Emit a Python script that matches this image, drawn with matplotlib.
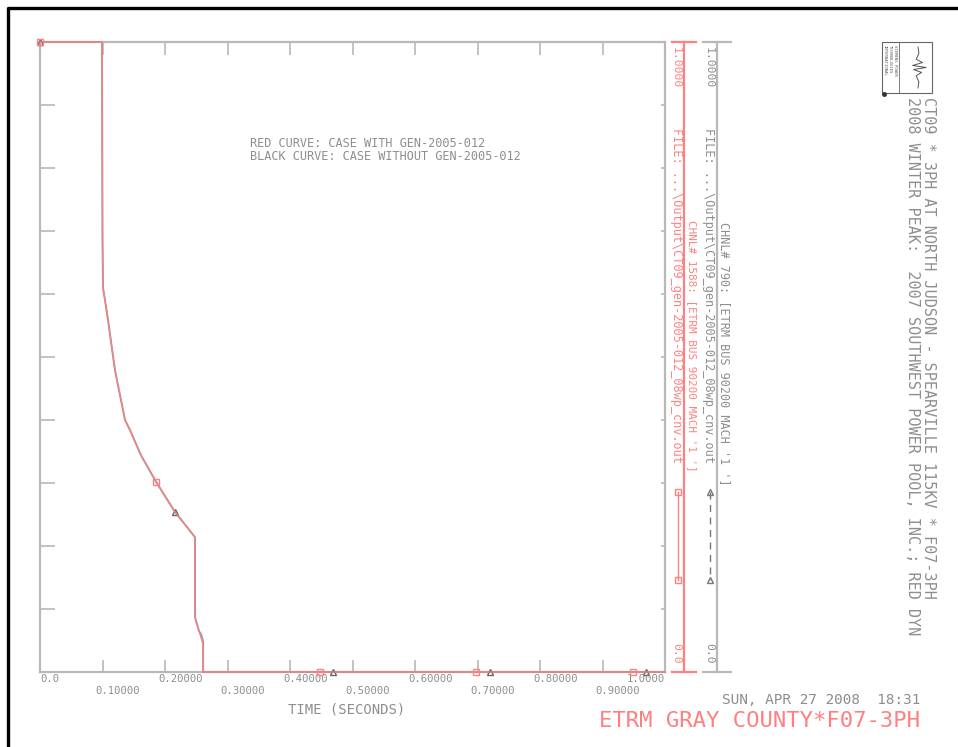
import matplotlib
matplotlib.use("Agg")
import matplotlib.pyplot as plt
from matplotlib.lines import Line2D
from matplotlib.patches import Rectangle

W, H = 958, 747
MONO = "DejaVu Sans Mono"
GREY = "#8e8e8e"
RED = "#ff8080"
FRAME = "#b8b8b8"

# red curve: case with GEN-2005-012 (CHNL# 1588)
time_red = [0.0, 0.0992, 0.1, 0.1008, 0.1048, 0.1088, 0.12, 0.136, 0.144, 0.1616, 0.1856,
            0.216, 0.248, 0.248, 0.261, 0.261, 0.448, 0.6976, 0.9488, 1.0]
chnl_1588 = [1.0, 1.0, 0.686, 0.610, 0.585, 0.559, 0.479, 0.400, 0.384, 0.344, 0.302,
             0.254, 0.214, 0.087, 0.043, 0.0, 0.0, 0.0, 0.0, 0.0]
marks_red = [0, 10, 16, 17, 18]

# black curve: case without GEN-2005-012 (CHNL# 790)
time_blk = [0.0, 0.0992, 0.1, 0.1008, 0.1048, 0.1088, 0.12, 0.136, 0.144, 0.1616, 0.1856,
            0.216, 0.248, 0.248, 0.2544, 0.2576, 0.261, 0.261, 0.469, 0.72, 0.97, 1.0]
chnl_790 = [1.0, 1.0, 0.686, 0.610, 0.585, 0.559, 0.479, 0.400, 0.384, 0.344, 0.302,
            0.254, 0.214, 0.087, 0.065, 0.060, 0.048, 0.0, 0.0, 0.0, 0.0, 0.0]
marks_blk = [0, 11, 18, 19, 20]

xticks = [0.0, 0.1, 0.2, 0.3, 0.4, 0.5, 0.6, 0.7, 0.8, 0.9, 1.0]
xlabels = ["0.0", "0.10000", "0.20000", "0.30000", "0.40000", "0.50000",
           "0.60000", "0.70000", "0.80000", "0.90000", "1.0000"]
yticks = [0.0, 0.1, 0.2, 0.3, 0.4, 0.5, 0.6, 0.7, 0.8, 0.9, 1.0]

# little logo waveform (logo box units)
logo_wave_t = [0.0, 0.15, 0.3, 0.38, 0.45, 0.5, 0.55, 0.62, 0.7, 0.85, 1.0]
logo_wave_a = [0.0, 0.1, -0.2, 0.5, -0.6, 0.9, -0.5, 0.4, -0.2, 0.1, 0.0]


def fx(x):
    return x / W


def fy(y):
    return 1 - y / H


fig = plt.figure(figsize=(W / 100, H / 100), dpi=100)
ax = fig.add_axes([fx(40), fy(672), 625 / W, 630 / H])

ax.plot(time_blk, chnl_790, color="#9a9a9a", lw=1.4, marker="^", ms=4.5,
        mfc="none", mec="#666666", markevery=marks_blk, clip_on=False, zorder=3)
ax.plot(time_red, chnl_1588, color=RED, lw=0.9, marker="s", ms=4.5,
        mfc="none", mec=RED, markevery=marks_red, clip_on=False, zorder=4)

ax.set_xlim(0, 1)
ax.set_ylim(0, 1)
ax.set_xticks(xticks)
ax.set_yticks(yticks)
ax.set_xticklabels([])
ax.set_yticklabels([])
for s in ax.spines.values():
    s.set_color(FRAME)
    s.set_linewidth(1.6)
ax.tick_params(axis="x", direction="in", length=9, width=1.2, color=FRAME,
               top=True, bottom=True)
ax.tick_params(axis="y", direction="in", length=11, width=1.2, color=FRAME,
               left=True, right=True)
for t in ax.yaxis.get_major_ticks():
    t.tick2line.set_markersize(3)

for i, (t, lbl) in enumerate(zip(xticks, xlabels)):
    if i == 0:
        ha, dx = "left", 0
    elif i == len(xticks) - 1:
        ha, dx = "right", 0
    else:
        ha, dx = "left", -5
    dy = -5 if i % 2 == 0 else -14
    ax.annotate(lbl, (t, 0), xycoords=("data", "axes fraction"),
                xytext=(dx, dy), textcoords="offset points", ha=ha, va="center",
                fontsize=7.6, family=MONO, color=GREY)

ax.text(0.49, -0.06, "TIME (SECONDS)", transform=ax.transAxes, ha="center",
        va="center", fontsize=10, family=MONO, color=GREY)

ax.text(0.336, 0.828, "RED CURVE: CASE WITH GEN-2005-012\nBLACK CURVE: CASE WITHOUT GEN-2005-012",
        transform=ax.transAxes, ha="left", va="center", fontsize=8.6,
        family=MONO, color=GREY, linespacing=1.0)

# outer page border (left and top only)
fig.add_artist(Line2D([fx(8), fx(8), fx(958)], [fy(747), fy(8), fy(8)],
                      color="black", lw=2.4))

# right-hand channel axes
for xl, c, x0, x1 in [(684, RED, 672, 696), (717, FRAME, 703, 731)]:
    fig.add_artist(Line2D([fx(xl), fx(xl)], [fy(42), fy(672)], color=c, lw=1.6))
    for yy in (42, 672):
        fig.add_artist(Line2D([fx(x0), fx(x1)], [fy(yy), fy(yy)], color=c, lw=1.6))

rot = dict(rotation=-90, rotation_mode="anchor", ha="left", va="center", family=MONO)
fig.text(fx(676), fy(47), "1.0000", fontsize=8.2, color=RED, **rot)
fig.text(fx(676), fy(128), "FILE: ...\\Output\\CT09_gen-2005-012_08wp_cnv.out",
         fontsize=8.6, color=RED, **rot)
fig.text(fx(692), fy(220), "CHNL# 1588: [ETRM BUS 90200 MACH '1 ']",
         fontsize=7.9, color=RED, **rot)
fig.text(fx(676), fy(643), "0.0", fontsize=8.2, color=RED, **rot)

fig.text(fx(709), fy(47), "1.0000", fontsize=8.2, color=GREY, **rot)
fig.text(fx(709), fy(128), "FILE: ...\\Output\\CT09_gen-2005-012_08wp_cnv.out",
         fontsize=8.6, color=GREY, **rot)
fig.text(fx(724), fy(222), "CHNL# 790: [ETRM BUS 90200 MACH '1 ']",
         fontsize=8.5, color=GREY, **rot)
fig.text(fx(709), fy(643), "0.0", fontsize=8.2, color=GREY, **rot)

# channel legend glyphs
fig.add_artist(Line2D([fx(678), fx(678)], [fy(492), fy(580)], color=RED, lw=1.0,
                      marker="s", ms=4.5, mfc="none", mec=RED))
fig.add_artist(Line2D([fx(710), fx(710)], [fy(492), fy(580)], color="#777777",
                      lw=1.0, ls=(0, (5, 4)), marker="^", ms=4.5, mfc="none",
                      mec="#777777"))

# titles on the right
fig.text(fx(928), fy(97), "CT09 * 3PH AT NORTH JUDSON - SPEARVILLE 115KV * F07-3PH",
         fontsize=10.9, color=GREY, **rot)
fig.text(fx(913), fy(97), "2008 WINTER PEAK:  2007 SOUTHWEST POWER POOL, INC.; RED DYN",
         fontsize=10.9, color=GREY, **rot)

# logo
fig.add_artist(Rectangle((fx(882), fy(93)), 50 / W, 51 / H, fill=False,
                         ec="#666666", lw=0.8, transform=fig.transFigure))
fig.add_artist(Line2D([fx(899), fx(899)], [fy(93), fy(42)], color="#666666", lw=0.6))
fig.add_artist(Line2D([fx(918 + 9 * a) for a in logo_wave_a],
                      [fy(47 + 41 * t) for t in logo_wave_t], color="#555555", lw=0.7))
for k, line in enumerate(["SIEMENS POWER", "TECHNOLOGIES", "INTERNATIONAL"]):
    fig.text(fx(895 - 5 * k), fy(45), line, fontsize=2.8, color="#555555", **rot)
fig.add_artist(Line2D([fx(884)], [fy(94)], marker="o", ms=2.5, color="#333333"))

# footer
fig.text(fx(920), fy(700), "SUN, APR 27 2008  18:31", ha="right", va="center",
         fontsize=10.4, family=MONO, color=GREY)
fig.text(fx(920), fy(721), "ETRM GRAY COUNTY*F07-3PH", ha="right", va="center",
         fontsize=16, family=MONO, color=RED)

fig.savefig("out.png", dpi=100)
